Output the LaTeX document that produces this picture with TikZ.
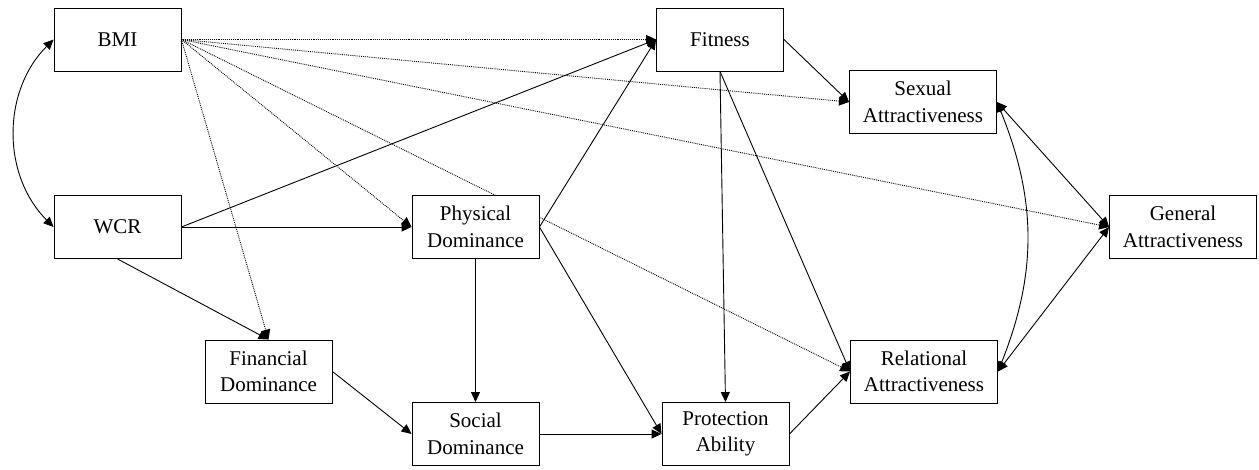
\documentclass[tikz,border=0pt]{standalone}
\usepackage{fontspec}
\setmainfont{Liberation Serif}
\usetikzlibrary{shapes,arrows.meta,backgrounds}
\tikzstyle{semvar}=[rectangle, draw, fill=white, line width=0.9pt, align=center, minimum height=63pt, minimum width=127pt, inner sep=2pt, font=\fontsize{21}{26.5}\selectfont]
\tikzstyle{semwide}=[semvar, minimum width=147pt]
\tikzstyle{sempath}=[draw, line width=0.9pt, -{Triangle[length=10pt,width=9pt]}]
\tikzstyle{semdotted}=[sempath, line width=0.9pt, densely dotted]
\tikzstyle{semcov}=[draw, line width=0.9pt, {Triangle[length=10pt,width=9pt]}-{Triangle[length=10pt,width=9pt]}]
\newcommand{\semvar}[3]{
	\node[semvar] (#1) at (#2) {#3};}
\newcommand{\semwide}[3]{
	\node[semwide] (#1) at (#2) {#3};}

\begin{document}
\begin{tikzpicture}[x=1pt, y=-1pt]
	\useasboundingbox (0,0) rectangle (1259,470);

	\semvar{bmi}{117.5,39.5}{BMI}
	\semvar{wcr}{117.5,227}{WCR}
	\semvar{physical}{475.5,227}{Physical\\Dominance}
	\semvar{financial}{268.5,371.5}{Financial\\Dominance}
	\semvar{social}{475.5,434}{Social\\Dominance}
	
	\semvar{fitness}{720,39.5}{Fitness}
	\semvar{protection}{725.5,434}{Protection\\Ability}
	\semwide{sexual}{923,102}{Sexual\\Attractiveness}
	\semwide{relational}{924,371.5}{Relational\\Attractiveness}
	\semwide{general}{1183,227}{General\\Attractiveness}
	
	\begin{pgfonlayer}{background}
	\path (bmi.west) edge[semcov, bend right=45] (wcr.west);
	\path (bmi.east) edge[semdotted] (fitness.west);
	\path (bmi.east) edge[semdotted] (sexual.west);
	\path (bmi.east) edge[semdotted] (general.west);
	\path (bmi.east) edge[semdotted] (relational.west);
	\path (bmi.east) edge[semdotted] (physical.west);
	\path (bmi.east) edge[semdotted] (financial.north);
	
	\path (wcr.east) edge[sempath] (physical.west);
	\path (wcr.east) edge[sempath] (fitness.west);
	\path (wcr.south) edge[sempath] (financial.north);
	\path (physical.east) edge[sempath] (fitness.west);
	\path (physical.south) edge[sempath] (social.north);
	\path (physical.east) edge[sempath] (protection.west);
	\path (financial.east) edge[sempath] (social.west);
	\path (social.east) edge[sempath] (protection.west);
	
	\path (fitness.east) edge[sempath] (sexual.west);
	\path (fitness.south) edge[sempath] (protection.north);
	\path (fitness.south) edge[sempath] (relational.west);
	\path (protection.east) edge[sempath] (relational.west);
	\path (sexual.east) edge[semcov] (general.west);
	\path (relational.east) edge[semcov] (general.west);
	\path (sexual.east) edge[semcov, bend left=22] (relational.east);
	\end{pgfonlayer}
\end{tikzpicture}
\end{document}
